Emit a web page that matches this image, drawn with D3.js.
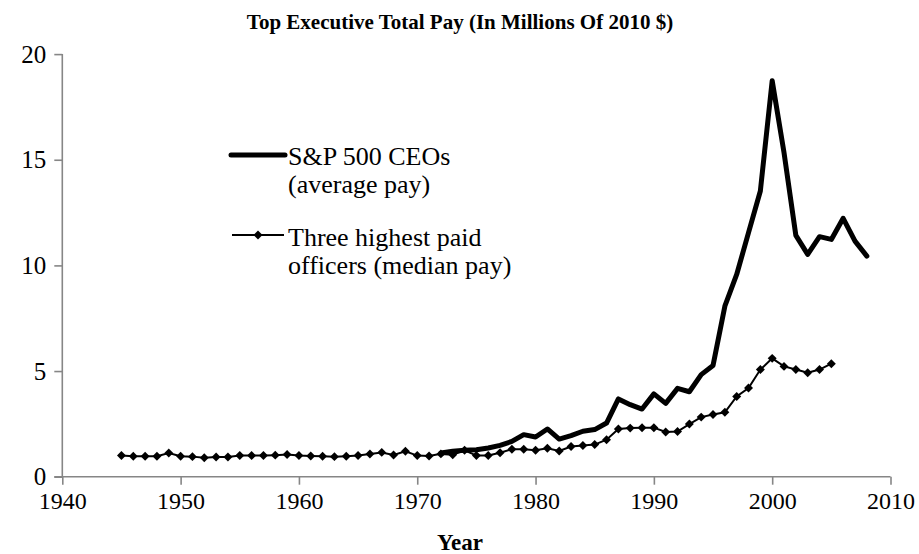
<!DOCTYPE html>
<html>
<head>
<meta charset="utf-8">
<script src="https://cdn.jsdelivr.net/npm/d3@7"></script>
<style>
  body { margin: 0; background: #fff; }
  text { font-family: "Liberation Serif", "Times New Roman", serif; fill: #000; }
</style>
</head>
<body>
<script>
const width = 919;
const height = 554;

// S&P 500 CEOs, average pay (millions of 2010 $)
const ceoYears = d3.range(1972, 2009);
const ceoPay = [
  1.12, 1.2, 1.25, 1.28, 1.36, 1.48, 1.67, 1.99, 1.88, 2.26,
  1.78, 1.94, 2.15, 2.23, 2.54, 3.68, 3.41, 3.2, 3.92, 3.47,
  4.18, 4.02, 4.83, 5.26, 8.07, 9.57, 11.55, 13.52, 18.74, 15.34,
  11.42, 10.52, 11.36, 11.23, 12.23, 11.15, 10.44
];

// three highest paid officers, median pay
const officerYears = d3.range(1945, 2006);
const officerPay = [
  1.0, 0.97, 0.97, 0.97, 1.12, 0.97, 0.95, 0.9, 0.93, 0.93,
  1.0, 1.0, 1.0, 1.02, 1.05, 1.0, 0.98, 0.97, 0.95, 0.97,
  1.0, 1.07, 1.15, 1.03, 1.2, 1.0, 0.98, 1.08, 1.04, 1.25,
  1.0, 1.0, 1.13, 1.3, 1.3, 1.25, 1.35, 1.22, 1.43, 1.48,
  1.52, 1.75, 2.26, 2.3, 2.32, 2.32, 2.12, 2.14, 2.49, 2.82,
  2.94, 3.05, 3.8, 4.2, 5.07, 5.6, 5.22, 5.07, 4.92, 5.07,
  5.35
];

const xTicks = [1940, 1950, 1960, 1970, 1980, 1990, 2000, 2010];
const yTicks = [0, 5, 10, 15, 20];

const ceo = ceoYears.map((yr, i) => ({year: yr, value: ceoPay[i]}));
const officers = officerYears.map((yr, i) => ({year: yr, value: officerPay[i]}));

const x = d3.scaleLinear().domain([1940, 2010]).range([62.3, 890.5]);
const y = d3.scaleLinear().domain([0, 20]).range([476.7, 54.1]);

const svg = d3.select('body').append('svg')
  .attr('width', width).attr('height', height);

const axisColor = '#868686';

const xAxis = g => g
  .attr('transform', `translate(0,${y(0)})`)
  .call(d3.axisBottom(x).tickValues(xTicks).tickFormat(d3.format('d')).tickSize(8).tickPadding(7))
  .call(g => g.select('.domain').attr('d', `M${x(1940) - 8},0H${x(2010)}`))
  .call(g => g.selectAll('.domain, line').attr('stroke', axisColor).attr('stroke-width', 1.6))
  .call(g => g.selectAll('text').attr('font-size', 24).attr('font-family', '"Liberation Serif", serif'));

const yAxis = g => g
  .attr('transform', `translate(${x(1940)},0)`)
  .call(d3.axisLeft(y).tickValues(yTicks).tickSize(8).tickPadding(8))
  .call(g => g.select('.domain').attr('d', `M0,${y(20)}V${y(0)}`))
  .call(g => g.selectAll('.domain, line').attr('stroke', axisColor).attr('stroke-width', 1.6))
  .call(g => g.selectAll('text').attr('font-size', 25).attr('font-family', '"Liberation Serif", serif'));

svg.append('g').call(xAxis);
svg.append('g').call(yAxis);

const line = d3.line()
  .x(d => x(d.year))
  .y(d => y(d.value));

svg.append('path')
  .datum(officers)
  .attr('fill', 'none')
  .attr('stroke', '#000')
  .attr('stroke-width', 2)
  .attr('d', line);

const diamond = d3.symbol().type(d3.symbolSquare).size(40);

svg.append('g')
  .selectAll('path')
  .data(officers)
  .join('path')
  .attr('transform', d => `translate(${x(d.year)},${y(d.value)}) rotate(45)`)
  .attr('d', diamond)
  .attr('fill', '#000');

svg.append('path')
  .datum(ceo)
  .attr('fill', 'none')
  .attr('stroke', '#000')
  .attr('stroke-width', 5)
  .attr('stroke-linejoin', 'round')
  .attr('stroke-linecap', 'round')
  .attr('d', line);

// legend
const legend = svg.append('g');
legend.append('line')
  .attr('x1', 231).attr('x2', 285).attr('y1', 155).attr('y2', 155)
  .attr('stroke', '#000').attr('stroke-width', 5).attr('stroke-linecap', 'round');
legend.append('text').attr('x', 288).attr('y', 165).attr('font-size', 26).text('S&P 500 CEOs');
legend.append('text').attr('x', 288).attr('y', 193).attr('font-size', 26).text('(average pay)');

legend.append('line')
  .attr('x1', 232).attr('x2', 284).attr('y1', 235).attr('y2', 235)
  .attr('stroke', '#000').attr('stroke-width', 2);
legend.append('path')
  .attr('transform', 'translate(258,235) rotate(45)')
  .attr('d', diamond).attr('fill', '#000');
legend.append('text').attr('x', 288).attr('y', 246).attr('font-size', 26).text('Three highest paid');
legend.append('text').attr('x', 288).attr('y', 274).attr('font-size', 26).text('officers (median pay)');

svg.append('text')
  .attr('x', 460).attr('y', 29)
  .attr('text-anchor', 'middle')
  .attr('font-size', 21).attr('font-weight', 'bold')
  .text('Top Executive Total Pay (In Millions Of 2010 $)');

svg.append('text')
  .attr('x', 460).attr('y', 550)
  .attr('text-anchor', 'middle')
  .attr('font-size', 23).attr('font-weight', 'bold')
  .text('Year');
</script>
</body>
</html>
